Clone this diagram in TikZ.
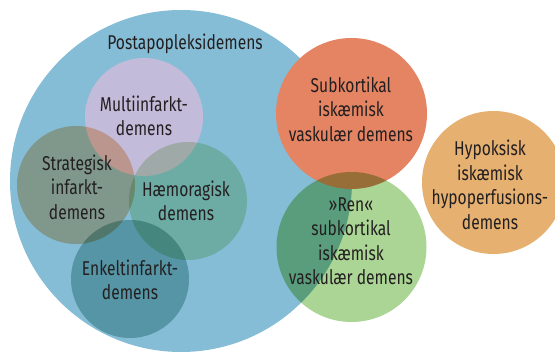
\documentclass[tikz,border=0pt]{standalone}
\usepackage{fontspec}
\setmainfont{Fira Sans}[FakeStretch=0.78]
\definecolor{cblue}{RGB}{134,189,214}
\definecolor{clav}{RGB}{195,187,218}
\definecolor{cstrat}{RGB}{244,205,167}
\definecolor{chaem}{RGB}{209,232,197}
\definecolor{cenk}{RGB}{162,202,197}
\definecolor{corange}{RGB}{228,132,98}
\definecolor{cgreen}{RGB}{170,213,148}
\definecolor{ctan}{RGB}{229,176,112}
\definecolor{ctxt}{RGB}{35,31,32}
\tikzset{
  lbl/.style={align=center, font=\fontsize{20}{24.5}\selectfont, text=ctxt, inner sep=0pt},
  mult/.style={blend mode=multiply}
}
\begin{document}
\begin{tikzpicture}[x=1pt,y=-1pt]
\useasboundingbox (0,0) rectangle (555,352);
\clip (0,0) rectangle (555,352);
% circles
\fill[cblue] (181,181) circle (171pt);
\fill[clav] (144,117) circle (59pt);
\fill[cstrat,mult] (76,185) circle (59pt);
\fill[chaem,mult] (188,201) circle (59pt);
\fill[cenk,mult] (130,279) circle (59pt);
\fill[corange] (351.5,113.5) circle (75.5pt);
\fill[cgreen,mult] (351.5,247) circle (75pt);
\fill[ctan] (493.5,182.5) circle (71.5pt);
% labels
\node[lbl] (post) at (185,44) {Postapopleksidemens};
\node[lbl] (multi) at (144,116) {Multiinfarkt-\\demens};
\node[lbl] (strat) at (77,187) {Strategisk\\infarkt-\\demens};
\node[lbl] (haem) at (186,201) {Hæmoragisk\\demens};
\node[lbl] (enk) at (130,280) {Enkeltinfarkt-\\demens};
\node[lbl] (sub) at (351,109) {Subkortikal\\iskæmisk\\vaskulær demens};
\node[lbl] (ren) at (351,241) {»Ren«\\subkortikal\\iskæmisk\\vaskulær demens};
\node[lbl] (hypo) at (490,185) {Hypoksisk\\iskæmisk\\hypoperfusions-\\demens};
\end{tikzpicture}
\end{document}
